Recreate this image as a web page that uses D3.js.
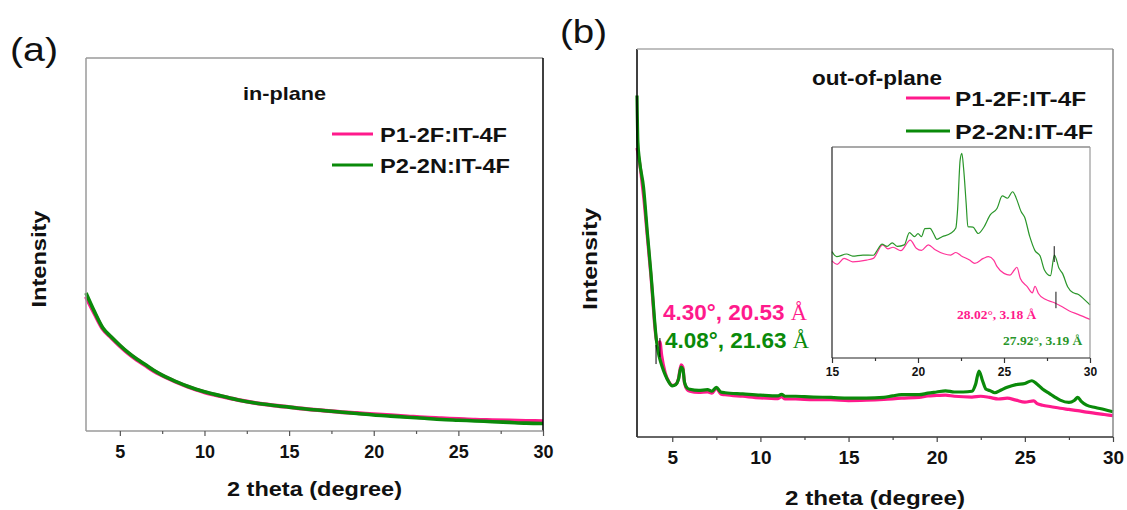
<!DOCTYPE html>
<html>
<head>
<meta charset="utf-8">
<script src="https://cdn.jsdelivr.net/npm/d3@7"></script>
<style>
  html, body { margin: 0; padding: 0; background: #fff; }
  svg { display: block; font-family: "Liberation Sans", Arial, sans-serif; }
</style>
</head>
<body>
<svg id="chart" width="1127" height="510"></svg>
<script>
// ---- data (2 theta in degrees, intensity in arbitrary units) ----
const seriesNames = ["P1-2F:IT-4F", "P2-2N:IT-4F"];
const xTicksMajor = [5, 10, 15, 20, 25, 30];
const xTicksMinor = [7.5, 12.5, 17.5, 22.5, 27.5];
const insetTicksMajor = [15, 20, 25, 30];
const insetTicksMinor = [17.5, 22.5, 27.5];

// (a) in-plane
const inPlaneX = [3, 3.5, 4, 4.5, 5, 5.5, 6, 6.5, 7, 7.5, 8, 8.5, 9, 9.5, 10, 11, 12, 13, 14, 15, 16, 17, 18, 19, 20, 21, 22, 23, 24, 25, 26, 27, 28, 29, 30];
const inPlaneP1 = [36.0, 31.5, 27.3, 25.0, 22.8, 20.8, 19.1, 17.6, 16.1, 14.9, 13.8, 12.8, 11.9, 11.1, 10.4, 9.3, 8.3, 7.5, 6.9, 6.4, 5.9, 5.5, 5.1, 4.8, 4.5, 4.2, 3.9, 3.6, 3.4, 3.2, 3.0, 2.9, 2.8, 2.7, 2.6];
const inPlaneP2 = [37.0, 32.0, 27.6, 25.2, 23.0, 21.0, 19.3, 17.8, 16.3, 15.0, 13.9, 12.9, 12.0, 11.2, 10.5, 9.4, 8.3, 7.5, 6.9, 6.4, 5.9, 5.5, 5.1, 4.7, 4.3, 4.0, 3.7, 3.4, 3.1, 2.9, 2.7, 2.5, 2.3, 2.1, 2.0];

// (b) out-of-plane
const oopX1 = [3.0, 3.1, 3.2, 3.3, 3.4, 3.5, 3.6, 3.7, 3.8, 3.9, 4.0, 4.1, 4.2, 4.3, 4.4, 4.6, 4.8, 5.0, 5.2, 5.35, 5.5, 5.6, 5.7, 5.85, 6.0, 6.5, 7.0, 7.25, 7.5, 7.75, 8.0, 9.0, 10.0, 11.0, 11.2, 11.4, 12.0, 13.0, 14.0, 15.0, 16.0, 17.0, 18.0, 19.0, 19.5, 20.0, 20.5, 21.0, 22.0, 22.5, 23.0, 23.5, 24.0, 24.5, 25.0, 25.5, 25.7, 26.0, 26.5, 27.0, 27.5, 28.0, 28.5, 29.0, 29.5, 30.0];
const oopP1 = [74.5, 72.0, 69.0, 65.0, 61.0, 56.0, 51.0, 46.0, 41.0, 35.0, 29.0, 25.0, 24.0, 24.5, 21.0, 16.5, 14.3, 13.3, 13.6, 15.0, 18.6, 18.0, 13.8, 12.2, 11.8, 11.5, 11.6, 11.3, 12.6, 11.1, 10.9, 10.5, 10.1, 9.9, 10.4, 9.8, 9.8, 9.6, 9.6, 9.4, 9.5, 9.7, 10.0, 10.2, 10.6, 10.7, 10.8, 10.5, 10.3, 10.5, 10.2, 9.8, 10.0, 9.5, 9.0, 9.3, 8.6, 8.2, 7.8, 7.4, 7.1, 6.8, 6.4, 6.1, 5.8, 5.5];
const oopX2 = [3.0, 3.05, 3.15, 3.37, 3.6, 3.79, 3.9, 4.0, 4.1, 4.2, 4.3, 4.4, 4.6, 4.8, 5.0, 5.2, 5.35, 5.5, 5.6, 5.7, 5.85, 6.0, 6.5, 7.0, 7.25, 7.5, 7.75, 8.0, 9.0, 10.0, 11.0, 11.2, 11.4, 12.0, 12.5, 13.0, 14.0, 15.0, 16.0, 17.0, 17.5, 18.0, 19.0, 19.5, 20.0, 20.5, 21.0, 21.5, 22.0, 22.2, 22.4, 22.6, 22.8, 23.0, 23.3, 23.6, 24.0, 24.5, 25.0, 25.4, 25.7, 26.0, 26.4, 26.7, 27.0, 27.5, 27.8, 28.0, 28.2, 28.5, 29.0, 29.5, 30.0];
const oopP2 = [88.0, 76.0, 71.0, 64.4, 52.0, 42.3, 36.0, 30.0, 25.0, 22.0, 20.0, 18.5, 16.0, 14.2, 13.2, 13.5, 14.8, 18.0, 17.5, 14.0, 12.6, 12.3, 12.0, 12.2, 11.8, 12.8, 11.6, 11.4, 11.1, 10.8, 10.6, 11.0, 10.5, 10.5, 10.4, 10.3, 10.2, 10.0, 10.0, 10.2, 10.6, 10.9, 10.9, 11.3, 11.6, 11.9, 11.6, 11.6, 11.8, 13.5, 17.0, 14.5, 12.3, 12.0, 11.4, 12.0, 12.8, 13.5, 13.8, 14.5, 13.6, 12.4, 11.2, 10.3, 9.5, 8.9, 9.4, 10.2, 9.2, 8.2, 7.6, 7.1, 6.5];

// inset: 15-30 degrees, expanded intensity
const insetX1 = [15.0, 15.3, 15.7, 16.2, 17.0, 17.4, 17.95, 18.25, 18.55, 19.0, 19.55, 19.9, 20.2, 20.6, 21.0, 21.5, 21.9, 22.2, 22.5, 23.0, 23.3, 23.8, 24.1, 24.4, 24.6, 25.0, 25.35, 25.6, 25.75, 25.95, 26.35, 26.65, 26.8, 27.0, 27.4, 27.9, 28.3, 28.8, 29.3, 30.0];
const insetP1 = [46.0, 44.4, 47.2, 45.6, 46.4, 47.2, 53.6, 51.7, 52.5, 50.9, 55.9, 52.0, 51.0, 53.6, 51.3, 49.4, 48.8, 50.0, 48.5, 46.4, 44.8, 47.2, 48.0, 46.4, 43.3, 40.1, 39.3, 41.7, 43.0, 37.7, 33.8, 30.9, 34.0, 30.6, 27.8, 26.3, 24.6, 22.3, 20.7, 18.3];
const insetX2 = [15.0, 15.27, 15.85, 16.2, 16.8, 17.4, 17.7, 17.9, 18.2, 18.5, 18.8, 19.2, 19.5, 19.8, 20.0, 20.2, 20.4, 20.7, 20.9, 21.1, 21.4, 21.9, 22.2, 22.3, 22.45, 22.55, 22.65, 22.8, 22.9, 23.2, 23.5, 23.8, 24.2, 24.6, 24.9, 25.2, 25.5, 25.7, 26.0, 26.2, 26.5, 26.8, 27.1, 27.35, 27.7, 27.93, 28.2, 28.4, 28.7, 29.0, 29.3, 29.8, 30.0];
const insetP2 = [50.4, 48.0, 49.3, 48.3, 48.8, 48.7, 52.0, 54.0, 52.9, 54.6, 52.9, 53.6, 59.4, 57.5, 58.9, 57.5, 61.3, 61.4, 59.0, 56.2, 57.5, 59.1, 61.6, 70.1, 93.8, 97.0, 90.0, 73.3, 62.2, 62.0, 59.0, 61.6, 67.8, 71.0, 76.8, 75.7, 78.8, 76.0, 69.3, 66.7, 57.5, 50.9, 48.3, 41.7, 39.0, 48.8, 42.5, 40.1, 33.8, 31.0, 30.2, 26.7, 25.1];

// peak markers [2theta, low, high] and their labels
const mainMarkers = [[4.08, 18.8, 23.7], [4.30, 20.6, 25.5]];
const mainPeakLabels = [["4.30°, 20.53 ", "Å"], ["4.08°, 21.63 ", "Å"]];
const insetMarkers = [[28.02, 23.6, 31.4], [27.92, 45.5, 53.0]];
const insetPeakLabels = [["28.02°, 3.18 ", "Å"], ["27.92°, 3.19 ", "Å"]];

const PINK = "#ff1a8c";
const GREEN = "#0a8a0a";
const INSET_PINK = "#ff3399";
const INSET_GREEN = "#2a962a";
const SANS = "'Liberation Sans', Arial, sans-serif";
const SERIF = "'Liberation Serif', 'Times New Roman', serif";

const svg = d3.select("#chart");

function series(xs, ys) { return xs.map((x, i) => [x, ys[i]]); }

function drawAxisTicks(g, x, y0, majors, minors, labelSize, labelOffset, strokeColor) {
  const major = g.append("g").attr("transform", `translate(0,${y0})`)
    .call(d3.axisBottom(x).tickValues(majors).tickSize(5).tickSizeOuter(0).tickPadding(labelOffset));
  major.attr("font-family", null).attr("font-size", null);
  major.select(".domain").remove();
  major.selectAll("line").attr("stroke", strokeColor).attr("stroke-width", 1.2);
  major.selectAll("text")
    .style("font-family", SANS).style("font-size", labelSize + "px")
    .attr("font-weight", "bold").attr("fill", "#111");
  const minor = g.append("g").attr("transform", `translate(0,${y0})`)
    .call(d3.axisBottom(x).tickValues(minors).tickSize(3).tickSizeOuter(0).tickFormat(""));
  minor.select(".domain").remove();
  minor.selectAll("line").attr("stroke", strokeColor).attr("stroke-width", 1.2);
}

function frame(g, x0, x1, y0, y1, colors, w) {
  // colors: [left, top, right, bottom]
  g.append("line").attr("x1", x0).attr("x2", x0).attr("y1", y0).attr("y2", y1).attr("stroke", colors[0]).attr("stroke-width", w);
  g.append("line").attr("x1", x0).attr("x2", x1).attr("y1", y0).attr("y2", y0).attr("stroke", colors[1]).attr("stroke-width", w);
  g.append("line").attr("x1", x1).attr("x2", x1).attr("y1", y0).attr("y2", y1).attr("stroke", colors[2]).attr("stroke-width", w);
  g.append("line").attr("x1", x0).attr("x2", x1).attr("y1", y1).attr("y2", y1).attr("stroke", colors[3]).attr("stroke-width", w);
}

function boldText(g, str, x, y, size, len, anchor) {
  const t = g.append("text").attr("x", x).attr("y", y)
    .style("font-family", SANS).style("font-size", size + "px")
    .attr("font-weight", "bold").attr("fill", "#111")
    .attr("text-anchor", anchor || "start").text(str);
  if (len) t.attr("textLength", len).attr("lengthAdjust", "spacingAndGlyphs");
  return t;
}

function legend(g, x0, x1, tx, ys, lens) {
  const cols = [PINK, GREEN];
  seriesNames.forEach((name, i) => {
    g.append("line").attr("x1", x0).attr("x2", x1).attr("y1", ys[i]).attr("y2", ys[i])
      .attr("stroke", cols[i]).attr("stroke-width", 3);
    boldText(g, name, tx, ys[i] + 7.5, 21, lens[i]);
  });
}

// ---------------- panel (a): in-plane ----------------
{
  const L = 86, R = 543, T = 58, B = 431;
  const x = d3.scaleLinear().domain([3, 30]).range([L, R]);
  const y = d3.scaleLinear().domain([0, 100]).range([B, T]);
  const g = svg.append("g");
  const line = d3.line().x(d => x(d[0])).y(d => y(d[1])).curve(d3.curveMonotoneX);

  g.append("path").datum(series(inPlaneX, inPlaneP1)).attr("d", line)
    .attr("fill", "none").attr("stroke", PINK).attr("stroke-width", 4);
  g.append("path").datum(series(inPlaneX, inPlaneP2)).attr("d", line)
    .attr("fill", "none").attr("stroke", GREEN).attr("stroke-width", 3.6);

  frame(g, L, R, T, B, ["#9a9a9a", "#9a9a9a", "#000", "#9a9a9a"], 1.5);
  drawAxisTicks(g, x, B, xTicksMajor, xTicksMinor, 18, 9, "#555");

  g.append("text").attr("x", 10).attr("y", 61).style("font-family", SANS).style("font-size", "34px")
    .attr("fill", "#111").attr("textLength", 48).attr("lengthAdjust", "spacingAndGlyphs").text("(a)");
  boldText(g, "in-plane", 243, 100, 19, 83);
  legend(g, 332, 373, 380, [134, 165], [127, 130]);
  boldText(g, "2 theta (degree)", 314.5, 496, 21, 175, "middle");
  boldText(g, "Intensity", 0, 0, 20, 97, "middle").attr("transform", "translate(46,259) rotate(-90)");
}

// ---------------- panel (b): out-of-plane ----------------
{
  const L = 637, R = 1113, T = 49, B = 437;
  const x = d3.scaleLinear().domain([3, 30]).range([L, R]);
  const y = d3.scaleLinear().domain([0, 100]).range([B, T]);
  const g = svg.append("g");
  const line = d3.line().x(d => x(d[0])).y(d => y(d[1])).curve(d3.curveMonotoneX);

  g.append("path").datum(series(oopX1, oopP1)).attr("d", line)
    .attr("fill", "none").attr("stroke", PINK).attr("stroke-width", 3.2);
  g.append("path").datum(series(oopX2, oopP2)).attr("d", line)
    .attr("fill", "none").attr("stroke", GREEN).attr("stroke-width", 3.2);

  mainMarkers.forEach(m => {
    g.append("line").attr("x1", x(m[0])).attr("x2", x(m[0])).attr("y1", y(m[1])).attr("y2", y(m[2]))
      .attr("stroke", "#000").attr("stroke-width", 1);
  });

  frame(g, L, R, T, B, ["#000", "#aaaaaa", "#888", "#333"], 1.5);
  drawAxisTicks(g, x, B, xTicksMajor, xTicksMinor, 19, 9, "#444");

  g.append("text").attr("x", 560).attr("y", 43).style("font-family", SANS).style("font-size", "34px")
    .attr("fill", "#111").attr("textLength", 47).attr("lengthAdjust", "spacingAndGlyphs").text("(b)");
  boldText(g, "out-of-plane", 812, 85, 20, 130);
  legend(g, 906, 950, 955, [98, 131], [131, 138]);
  boldText(g, "2 theta (degree)", 875, 505, 21, 180, "middle");
  boldText(g, "Intensity", 0, 0, 20, 102, "middle").attr("transform", "translate(597,259) rotate(-90)");

  // peak labels near the low-angle reflection
  const labCols = [PINK, GREEN];
  const labPos = [[663, 320], [665, 348]];
  mainPeakLabels.forEach((lab, i) => {
    const t = g.append("text").attr("x", labPos[i][0]).attr("y", labPos[i][1])
      .style("font-family", SANS).style("font-size", "22.5px")
      .attr("font-weight", "bold").attr("fill", labCols[i]);
    t.append("tspan").text(lab[0]);
    t.append("tspan").style("font-family", SERIF).style("font-weight", "normal").text(lab[1]);
  });

  // ---------- inset: 15-30 degrees ----------
  const iL = 832, iR = 1090, iT = 147, iB = 358;
  const ix = d3.scaleLinear().domain([15, 30]).range([iL, iR]);
  const iy = d3.scaleLinear().domain([0, 100]).range([iB, iT]);
  const ig = g.append("g");
  ig.append("rect").attr("x", iL).attr("y", iT).attr("width", iR - iL).attr("height", iB - iT).attr("fill", "#fff");
  const iline = d3.line().x(d => ix(d[0])).y(d => iy(d[1])).curve(d3.curveMonotoneX);
  ig.append("path").datum(series(insetX1, insetP1)).attr("d", iline)
    .attr("fill", "none").attr("stroke", INSET_PINK).attr("stroke-width", 1.2);
  ig.append("path").datum(series(insetX2, insetP2)).attr("d", iline)
    .attr("fill", "none").attr("stroke", INSET_GREEN).attr("stroke-width", 1.2);
  insetMarkers.forEach(m => {
    ig.append("line").attr("x1", ix(m[0])).attr("x2", ix(m[0])).attr("y1", iy(m[1])).attr("y2", iy(m[2]))
      .attr("stroke", "#111").attr("stroke-width", 1);
  });
  frame(ig, iL, iR, iT, iB, ["#222", "#555", "#999", "#222"], 1.2);
  drawAxisTicks(ig, ix, iB, insetTicksMajor, insetTicksMinor, 12, 4, "#333");

  const iCols = [PINK, INSET_GREEN];
  const iPos = [[957, 319], [1003, 345]];
  insetPeakLabels.forEach((lab, i) => {
    const t = ig.append("text").attr("x", iPos[i][0]).attr("y", iPos[i][1])
      .style("font-family", SERIF).style("font-size", "13.5px")
      .attr("font-weight", "bold").attr("fill", iCols[i]);
    t.append("tspan").text(lab[0]);
    t.append("tspan").text(lab[1]);
  });
}
</script>
</body>
</html>
